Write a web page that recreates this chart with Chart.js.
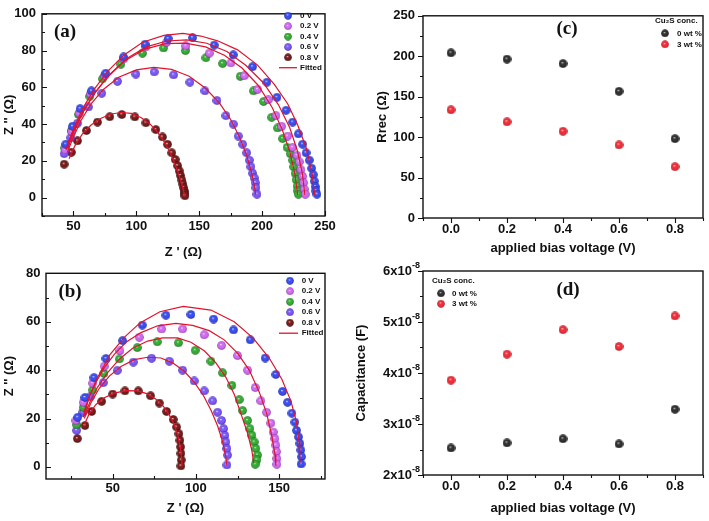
<!DOCTYPE html>
<html>
<head>
<meta charset="utf-8">
<script src="https://cdn.jsdelivr.net/npm/chart.js@4.4.1/dist/chart.umd.min.js"></script>
<style>
  body { margin: 0; background: #fff; }
  #fig { position: relative; width: 709px; height: 521px; overflow: hidden; }
  canvas { position: absolute; }
</style>
</head>
<body>
<div id="fig">
  <canvas id="chartA" width="354" height="260" style="left:0;top:0"></canvas>
  <canvas id="chartC" width="355" height="260" style="left:354px;top:0"></canvas>
  <canvas id="chartB" width="354" height="261" style="left:0;top:260px"></canvas>
  <canvas id="chartD" width="355" height="261" style="left:354px;top:260px"></canvas>
</div>
<script>
const FONT = '"Liberation Sans", Arial, sans-serif';

// ---- panel (a): Nyquist plots, Z' / Z'' in ohm ----
const aV00 = [[43.9,29.1],[49.2,38.8],[55.3,48.4],[64.3,58.1],[75.7,67.7],[89.8,76.5],[107.0,83.5],[125.3,86.5],[144.7,87.0],[161.9,83.0],[177.1,77.7],[192.4,71.2],[203.8,62.8],[211.8,54.6],[219.0,47.5],[224.3,41.1],[228.8,34.7],[232.2,29.1],[234.9,24.4],[237.5,20.4],[239.4,16.0],[240.7,12.5],[241.5,9.0],[242.3,6.0],[242.8,3.7],[243.6,1.9]];
const aV02 = [[43.3,26.0],[48.5,36.0],[54.5,46.0],[63.5,56.5],[75.0,66.5],[90.0,75.5],[107.5,82.0],[124.0,84.5],[139.4,82.5],[158.0,78.6],[175.2,73.3],[185.8,66.3],[196.4,58.9],[204.9,53.3],[211.0,44.6],[215.5,38.8],[220.3,33.5],[224.3,27.4],[227.7,23.0],[229.5,19.5],[230.9,15.1],[232.2,11.6],[233.0,8.1],[233.5,4.6],[234.3,1.9]];
const aV04 = [[43.1,27.0],[48.4,36.5],[54.0,45.3],[63.0,55.1],[73.1,64.6],[87.7,72.6],[104.9,78.6],[121.6,81.4],[139.0,80.0],[155.3,76.1],[168.6,73.0],[182.6,66.0],[193.2,58.1],[201.2,52.3],[207.6,43.7],[212.3,37.9],[216.3,32.1],[219.8,27.4],[222.4,23.9],[224.3,20.4],[225.1,16.8],[226.2,13.3],[227.0,9.8],[227.8,6.3],[228.3,3.7],[228.8,1.9]];
const aV06 = [[42.6,23.9],[47.9,32.6],[53.2,40.5],[61.9,49.3],[72.5,56.8],[85.0,63.3],[99.6,67.2],[114.2,68.4],[129.6,66.8],[142.6,62.8],[154.5,58.1],[164.1,52.8],[171.2,44.6],[177.1,40.0],[181.0,33.5],[184.5,29.1],[187.7,24.4],[189.8,20.4],[191.1,16.8],[192.4,13.3],[193.8,10.7],[194.6,8.1],[195.1,5.4],[195.9,1.9]];
const aV08 = [[42.6,18.2],[48.4,24.7],[53.2,30.9],[60.3,36.5],[69.1,41.1],[78.9,44.0],[88.5,45.2],[98.8,43.9],[107.6,40.7],[115.5,37.0],[120.8,33.0],[124.8,29.0],[128.2,24.4],[130.9,20.8],[132.8,17.4],[134.1,14.6],[135.2,12.0],[136.2,9.6],[137.0,7.4],[137.6,5.4],[138.1,3.6],[138.5,2.2],[138.6,1.0]];
const aFit00 = [[45.2,29.1],[50.5,38.0],[57,48],[66,58.5],[77,68.5],[90,77.5],[105,84.5],[122,88.3],[137,89.3],[151.3,87.9],[164.6,85.3],[180.5,80.4],[196.4,72.1],[209.7,61.6],[220.3,51.1],[228.2,39.6],[234.9,27.4],[239.7,13.3],[241.8,1.5]];
const aFit02 = [[45.5,27.0],[51,37],[58,47],[67,57],[78,66.5],[92,75.5],[108,82],[124,85.2],[140,85.8],[156,84],[172,79.5],[187,72],[201,62.5],[213,50.5],[222,38],[228,25.5],[232,13],[234,1.5]];
const aFit04 = [[44,26],[50,36.5],[57,46],[66,56],[77,65.5],[91,74.5],[107,80.8],[123,83.8],[139,84.0],[155,82],[170,77.5],[184,70.5],[197,61],[208,49],[216,37],[222,25],[226,13],[228.3,1.5]];
const aFit06 = [[45,24.5],[50,33],[56,42],[64,51],[74,59],[86,65.5],[100,69.5],[114,70.8],[128,69.8],[142,66],[155,59.5],[166,51.5],[175,42.5],[182,33],[187.5,23.5],[191.5,14],[194,6],[195,1.5]];
const aFit08 = [[46.5,21.2],[51,28],[57,34.5],[64,39.5],[72,43.2],[80,45.5],[88,46.3],[96,45.8],[104,43.5],[111,40],[117,35.5],[122,30.5],[126.5,25],[130,19.5],[133,14],[135.5,9],[137.3,4.5],[138.3,1.0]];

// ---- panel (b): Nyquist plots ----
const bV00 = [[29.0,20.5],[33.4,28.7],[38.8,36.9],[46.0,44.8],[56.0,52.2],[67.8,58.6],[82.0,62.7],[97.0,63.0],[110.6,61.1],[122.6,56.6],[132.6,52.5],[141.6,45.0],[148.0,38.2],[152.0,31.2],[155.0,26.7],[157.6,22.2],[159.4,18.5],[160.4,15.1],[161.6,12.4],[162.4,9.7],[163.0,7.0],[163.4,4.2],[163.2,1.2]];
const bV02 = [[28.0,19.2],[32.4,26.7],[38.0,34.6],[45.0,41.6],[54.4,48.0],[66.0,53.6],[79.4,57.0],[92.0,57.0],[105.0,54.6],[115.4,50.2],[125.0,46.0],[131.0,40.0],[135.6,32.8],[139.0,27.3],[142.4,22.6],[145.0,18.1],[146.4,14.4],[147.4,11.7],[148.0,9.0],[148.4,6.3],[148.6,3.5],[148.6,1.1]];
const bV04 = [[28.4,17.4],[32.4,24.6],[38.0,31.8],[44.8,38.6],[54.0,44.6],[64.8,49.3],[76.8,51.7],[89.5,51.3],[99.6,48.2],[109.0,43.7],[116.0,38.9],[121.6,33.7],[126.0,27.8],[128.0,23.3],[131.0,19.2],[132.4,15.8],[133.6,13.1],[135.0,10.3],[136.0,7.6],[137.0,4.9],[136.6,2.9],[135.6,1.1]];
const bV06 = [[28.4,15.1],[32.0,22.6],[36.5,29.0],[44.4,34.8],[52.8,39.9],[62.4,43.3],[73.4,44.9],[84.0,43.7],[92.0,40.0],[99.0,35.5],[105.0,31.4],[110.0,27.3],[113.0,22.6],[115.4,19.2],[116.6,15.8],[117.4,13.0],[118.0,10.3],[118.6,7.6],[119.0,4.9],[118.6,0.8]];
const bV08 = [[28.8,11.7],[33.4,17.1],[37.4,22.9],[43.4,27.1],[50.0,30.1],[57.4,31.4],[65.4,31.4],[72.8,29.4],[78.0,26.4],[82.4,22.9],[86.4,19.6],[88.4,16.5],[89.8,13.7],[90.4,11.0],[90.8,8.3],[91.0,5.6],[91.2,2.9],[91.0,0.4]];
const bFit00 = [[32.4,20.5],[36,29],[40.4,36.2],[48.4,46.4],[57,53.5],[66.4,59.5],[78.4,64.1],[92.4,66.3],[109,64.8],[123,60],[134.4,53.2],[144,45],[151.6,36.2],[157,27.3],[160.4,18.5],[162,10.3],[162.4,1.2]];
const bFit02 = [[33,23],[36,29],[40,35],[45,41],[51,46.5],[58,51.5],[67,55.5],[77,58.3],[88,59.3],[98,58.5],[108,56.3],[117,52.5],[125,47],[132,40],[138,31],[142.5,22],[145.5,13],[147.5,5],[148,0.5]];
const bFit04 = [[33,21],[36.5,27],[41,33],[47,39],[54,44.5],[62,49],[71,52],[80,53.3],[89,53.3],[97,51.5],[105,48],[112,43],[118,37],[123,30],[127,22],[131,14],[133.5,7],[134.8,1.5]];
const bFit06 = [[33,20],[37,26.5],[42,32.5],[48,37.5],[55,41.5],[63,44.3],[71,45.3],[79,45],[86,43],[93,39.5],[99,35],[104.5,29.5],[109,23.5],[113,17],[116,10.5],[118,4],[118.6,0.5]];
const bFit08 = [[33,17.5],[36,22],[40,25.8],[45,28.6],[51,30.5],[58,31.5],[65,31.4],[71,30.2],[76,28],[80.5,25],[84,21.5],[87,17.5],[89.3,12.5],[90.8,7.5],[91.5,3],[91.7,0.5]];

// ---- panels (c), (d): vs applied bias ----
const biasV = [0, 0.2, 0.4, 0.6, 0.8];
const rrec0 = [204.2, 196.5, 190.9, 156.7, 98.1];
const rrec3 = [133.8, 119.0, 107.3, 90.4, 63.5];
const cap0 = [2.53e-8, 2.63e-8, 2.71e-8, 2.61e-8, 3.29e-8];
const cap3 = [3.86e-8, 4.37e-8, 4.85e-8, 4.52e-8, 5.12e-8];

// tick values (all ticks) and the labelled ones
const aXTicks = [25, 50, 75, 100, 125, 150, 175, 200, 225, 250];
const aXLabels = [50, 100, 150, 200, 250];
const aYTicks = [-10, 0, 10, 20, 30, 40, 50, 60, 70, 80, 90, 100];
const aYLabels = [0, 20, 40, 60, 80, 100];
const bXTicks = [25, 50, 75, 100, 125, 150, 175];
const bXLabels = [50, 100, 150];
const bYTicks = [0, 10, 20, 30, 40, 50, 60, 70, 80];
const bYLabels = [0, 20, 40, 60, 80];
const vTicks = [-0.1, 0, 0.1, 0.2, 0.3, 0.4, 0.5, 0.6, 0.7, 0.8, 0.9];
const vLabels = [0, 0.2, 0.4, 0.6, 0.8];
const cYTicks = [0, 25, 50, 75, 100, 125, 150, 175, 200, 225, 250];
const cYLabels = [0, 50, 100, 150, 200, 250];
const dYTicks = [2e-8, 2.5e-8, 3e-8, 3.5e-8, 4e-8, 4.5e-8, 5e-8, 5.5e-8, 6e-8];
const dYLabels = [2e-8, 3e-8, 4e-8, 5e-8, 6e-8];

const voltNames = ['0 V', '0.2 V', '0.4 V', '0.6 V', '0.8 V'];
const concNames = ['0 wt %', '3 wt %'];

// shaded ball sprites used as point markers
function ball(main, dark, d) {
  const c = document.createElement('canvas');
  c.width = d; c.height = d;
  const g = c.getContext('2d');
  const r = d / 2;
  const grad = g.createRadialGradient(r * 0.85, r * 0.75, 0, r, r, r);
  grad.addColorStop(0, '#ffffff');
  grad.addColorStop(0.28, main);
  grad.addColorStop(0.7, main);
  grad.addColorStop(1, dark);
  g.fillStyle = grad;
  g.beginPath();
  g.arc(r, r, r - 0.2, 0, Math.PI * 2);
  g.fill();
  return c;
}

const vBalls = [
  ball('#3b4ff0', '#0d1690', 9),
  ball('#cf6cf0', '#7a1d95', 9),
  ball('#35ae35', '#0f5410', 9),
  ball('#7b5af5', '#3215a0', 9),
  ball('#7a1c1c', '#2a0505', 9)
];
const cBalls = [ball('#333333', '#000000', 9), ball('#f0303a', '#a00010', 9)];
const FIT_COLOR = '#e3122c';

const pts = (data, sprite) => ({ data, pointStyle: sprite, pointRadius: 4.5, showLine: false, order: 1 });
const fit = data => ({ data, showLine: true, borderColor: FIT_COLOR, borderWidth: 1.2, pointRadius: 0, order: 0, fill: false });

function axis(o) {
  return {
    type: 'linear',
    min: o.min, max: o.max,
    grid: { display: false, drawTicks: false },
    border: { display: false },
    afterBuildTicks: s => { s.ticks = o.ticks.map(v => ({ value: v })); },
    afterFit: s => { if (s.isHorizontal()) s.height = o.size; else s.width = o.size; },
    ticks: {
      display: !o.ownLabels,
      color: '#111', padding: o.pad, autoSkip: false, maxRotation: 0,
      font: { family: FONT, size: 13, weight: 'bold' },
      callback: v => o.labels.includes(v) ? o.fmt(v) : ''
    },
    title: {
      display: true, text: o.title, color: '#111',
      font: { family: FONT, size: 13, weight: 'bold' },
      padding: o.titlePad
    }
  };
}

// frame, tick marks, in-plot legend and panel letter
const decor = {
  id: 'decor',
  afterDraw(chart, args, o) {
    const ctx = chart.ctx, a = chart.chartArea;
    const xs = chart.scales.x, ys = chart.scales.y;
    const dir = o.inward ? -1 : 1;
    ctx.save();
    ctx.strokeStyle = '#111';
    ctx.lineWidth = 1.1;
    ctx.beginPath();
    xs.ticks.forEach(t => {
      const p = Math.round(xs.getPixelForValue(t.value)) + 0.5;
      const len = o.xMajor.includes(t.value) ? 5 : 3;
      ctx.moveTo(p, a.bottom); ctx.lineTo(p, a.bottom + dir * len);
    });
    ys.ticks.forEach(t => {
      const p = Math.round(ys.getPixelForValue(t.value)) + 0.5;
      const len = o.yMajor.includes(t.value) ? 5 : 3;
      ctx.moveTo(a.left, p); ctx.lineTo(a.left - dir * len, p);
    });
    ctx.stroke();
    ctx.lineWidth = 1.4;
    ctx.strokeRect(a.left, a.top, a.right - a.left, a.bottom - a.top);
    ctx.fillStyle = '#111';

    // "Nx10" with a raised "-8" for the capacitance axis
    if (o.sciLabels) {
      ctx.textBaseline = 'middle';
      o.yMajor.forEach(v => {
        const p = ys.getPixelForValue(v);
        ctx.font = 'bold 9px ' + FONT;
        const sup = '-8';
        const wSup = ctx.measureText(sup).width;
        const xEnd = a.left - 3;
        ctx.textAlign = 'left';
        ctx.fillText(sup, xEnd - wSup, p - 5);
        ctx.font = 'bold 13px ' + FONT;
        ctx.textAlign = 'right';
        ctx.fillText(Math.round(v * 1e8) + 'x10', xEnd - wSup, p);
      });
    }

    const lg = o.legend;
    ctx.font = 'bold 8px ' + FONT;
    ctx.textBaseline = 'middle';
    ctx.textAlign = 'left';
    let y = lg.y;
    if (lg.title) {
      ctx.fillText(lg.title, lg.titleX, lg.titleY);
    }
    lg.items.forEach(it => {
      if (it.sprite) {
        ctx.drawImage(it.sprite, lg.x - 4, y - 4, 8, 8);
      } else {
        ctx.strokeStyle = FIT_COLOR;
        ctx.lineWidth = 1.3;
        ctx.beginPath();
        ctx.moveTo(lg.lineFrom, y); ctx.lineTo(lg.lineTo, y);
        ctx.stroke();
      }
      ctx.fillStyle = '#111';
      ctx.fillText(it.text, lg.textX, y);
      y += lg.step;
    });

    ctx.font = 'bold 19px "Liberation Serif", "Times New Roman", serif';
    ctx.textAlign = 'center';
    ctx.fillText(o.tag.text, o.tag.x, o.tag.y);
    ctx.restore();
  }
};

function panel(id, datasets, xAxis, yAxis, pad, decorOpts) {
  decorOpts.xMajor = xAxis.labels;
  decorOpts.yMajor = yAxis.labels;
  decorOpts.sciLabels = !!yAxis.ownLabels;
  return new Chart(document.getElementById(id), {
    type: 'scatter',
    data: { datasets },
    options: {
      responsive: false,
      animation: false,
      events: [],
      layout: { padding: pad },
      scales: { x: axis(xAxis), y: axis(yAxis) },
      plugins: { legend: { display: false }, tooltip: { enabled: false }, decor: decorOpts }
    },
    plugins: [decor]
  });
}

const fmtInt = v => String(v);
const fmtV = v => v.toFixed(1);

const nyqLegend = (x, y, step, textX, lineFrom, lineTo) => ({
  x, y, step, textX, lineFrom, lineTo,
  items: voltNames.map((n, i) => ({ sprite: vBalls[i], text: n })).concat([{ text: 'Fitted' }])
});

// (a)
panel('chartA',
  [aV00, aV02, aV04, aV06, aV08].map((d, i) => pts(d, vBalls[i]))
    .concat([aFit00, aFit02, aFit04, aFit06, aFit08].map(fit)),
  { min: 25, max: 250, ticks: aXTicks, labels: aXLabels, fmt: fmtInt, size: 44, pad: 3, title: "Z ' (\u03A9)", titlePad: { top: 0, bottom: 0 } },
  { min: -10, max: 100, ticks: aYTicks, labels: aYLabels, fmt: fmtInt, size: 42, pad: 6, title: "Z '' (\u03A9)", titlePad: { top: 2, bottom: 0 } },
  { top: 7, right: 29, left: 0, bottom: 0 },
  { inward: true, legend: nyqLegend(288, 15.7, 10.4, 300, 279, 297), tag: { text: '(a)', x: 65, y: 32 } }
);

// (b)
panel('chartB',
  [bV00, bV02, bV04, bV06, bV08].map((d, i) => pts(d, vBalls[i]))
    .concat([bFit00, bFit02, bFit04, bFit06, bFit08].map(fit)),
  { min: 10, max: 177.5, ticks: bXTicks, labels: bXLabels, fmt: fmtInt, size: 42, pad: 1.5, title: "Z ' (\u03A9)", titlePad: { top: 0, bottom: 5 } },
  { min: -5, max: 80, ticks: bYTicks, labels: bYLabels, fmt: fmtInt, size: 46, pad: 5.5, title: "Z '' (\u03A9)", titlePad: { top: 2, bottom: 0 } },
  { top: 11, right: 29, left: 0, bottom: 0 },
  { inward: true, legend: nyqLegend(290, 20.7, 10.5, 301.7, 279, 298), tag: { text: '(b)', x: 70, y: 32 } }
);

// (c)
panel('chartC',
  [rrec0, rrec3].map((vals, i) => pts(biasV.map((v, j) => ({ x: v, y: vals[j] })), cBalls[i])),
  { min: -0.1, max: 0.9, ticks: vTicks, labels: vLabels, fmt: fmtV, size: 42, pad: 4, title: 'applied bias voltage (V)', titlePad: { top: 0, bottom: 4 } },
  { min: 0, max: 250, ticks: cYTicks, labels: cYLabels, fmt: fmtInt, size: 69, pad: 8, title: 'Rrec (\u03A9)', titlePad: { top: 21, bottom: 0 } },
  { top: 11, right: 6, left: 0, bottom: 0 },
  { inward: false,
    legend: { x: 311, y: 33.3, step: 11, textX: 323, title: 'Cu\u2082S conc.', titleX: 301, titleY: 20.7,
              items: concNames.map((n, i) => ({ sprite: cBalls[i], text: n })) },
    tag: { text: '(c)', x: 213, y: 29 } }
);

// (d)
panel('chartD',
  [cap0, cap3].map((vals, i) => pts(biasV.map((v, j) => ({ x: v, y: vals[j] })), cBalls[i])),
  { min: -0.1, max: 0.9, ticks: vTicks, labels: vLabels, fmt: fmtV, size: 46, pad: 4, title: 'applied bias voltage (V)', titlePad: { top: 0, bottom: 5 } },
  { min: 2e-8, max: 6e-8, ticks: dYTicks, labels: dYLabels, fmt: v => String(v), ownLabels: true, size: 69, pad: 3, title: 'Capacitance (F)', titlePad: { top: 0, bottom: 0 } },
  { top: 11, right: 6, left: 0, bottom: 0 },
  { inward: false,
    legend: { x: 87, y: 33.3, step: 10.4, textX: 98, title: 'Cu\u2082S conc.', titleX: 78, titleY: 20.7,
              items: concNames.map((n, i) => ({ sprite: cBalls[i], text: n })) },
    tag: { text: '(d)', x: 214, y: 30 } }
);
</script>
</body>
</html>
